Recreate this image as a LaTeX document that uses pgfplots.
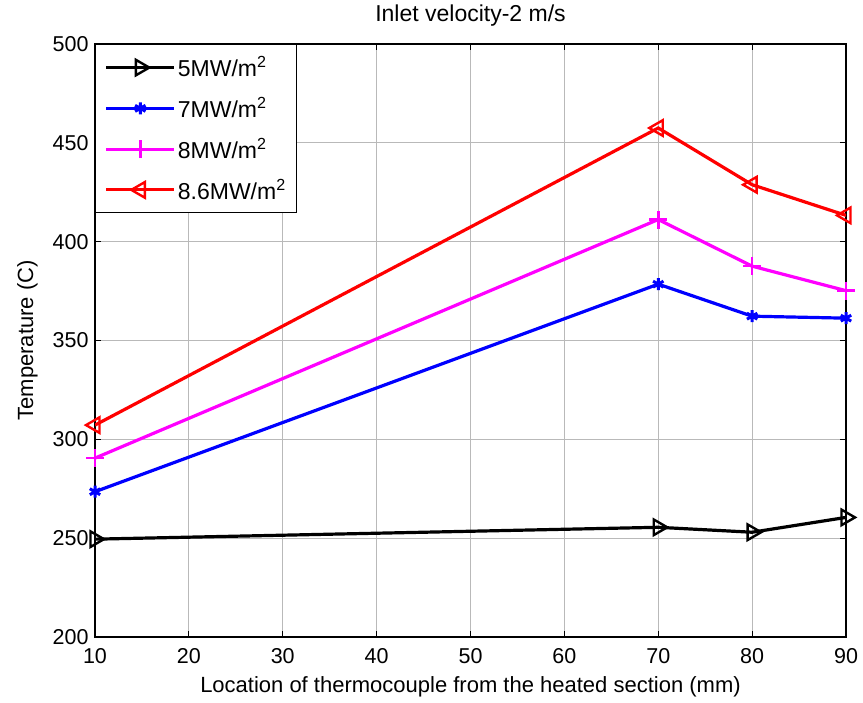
\documentclass[border=0pt]{standalone}
\usepackage{fontspec}
\setmainfont{Liberation Sans}
\usepackage{pgfplots}
\pgfplotsset{compat=1.18}
\usetikzlibrary{calc}
\definecolor{mblue}{RGB}{0,0,255}
\definecolor{mmag}{RGB}{255,0,255}
\definecolor{mred}{RGB}{255,0,0}

\begin{document}
\begin{tikzpicture}
\begin{axis}[
    name=ax,
    scale only axis,
    width=751pt,
    height=593pt,
    xmin=10, xmax=90,
    ymin=200, ymax=500,
    xtick={10,20,...,90},
    ytick={200,250,...,500},
    /pgf/number format/assume math mode=true,
    ticklabel style={font=\fontsize{21.5}{23}\selectfont},
    xticklabel style={yshift=-8pt},
    yticklabel style={xshift=-3pt},
    grid=major,
    grid style={gray!55, line width=0.9pt},
    axis line style={line width=1.4pt},
    tick align=inside,
    major tick length=6pt,
    tick style={black, line width=1pt},
    title={Inlet velocity-2 m/s},
    title style={font=\fontsize{23}{25}\selectfont, at={(0.5,1)}, anchor=south, yshift=8pt},
    xlabel={Location of thermocouple from the heated section (mm)},
    ylabel={Temperature (C)},
    label style={font=\fontsize{22}{24}\selectfont},
    xlabel style={yshift=-6pt},
    ylabel style={yshift=8pt},
    legend cell align=left,
    legend style={at={(0,1)}, anchor=north west, draw=black, line width=1.4pt,
        font=\fontsize{23}{25}\selectfont, row sep=15pt, inner xsep=9pt, inner ysep=10pt,
        /tikz/every even column/.append style={column sep=6pt}},
    legend image code/.code={
        \draw[mark repeat=2, mark phase=2] plot coordinates {(0pt,0pt) (34pt,0pt) (68pt,0pt)};
    },
]
\addplot[black, line width=3.2pt, mark=triangle, mark size=9pt,
    mark options={rotate=-90, solid, line width=2.4pt}] coordinates {
    (10,249.5) (70,255.5) (80,253) (90,260.5)
};
\addplot[mblue, line width=3.2pt, mark=asterisk, mark size=6pt,
    mark options={solid, line width=3pt}] coordinates {
    (10,273.5) (70,378.5) (80,362.3) (90,361.3)
};
\addplot[mmag, line width=3.2pt, mark=+, mark size=9pt,
    mark options={solid, line width=2.6pt}] coordinates {
    (10,290.5) (70,411.2) (80,387.6) (90,375.2)
};
\addplot[mred, line width=3.2pt, mark=triangle, mark size=9pt,
    mark options={rotate=90, solid, line width=2.4pt}] coordinates {
    (10,307.2) (70,457.5) (80,428.8) (90,413.3)
};
\legend{5MW/m\textsuperscript{2}, 7MW/m\textsuperscript{2}, 8MW/m\textsuperscript{2}, 8.6MW/m\textsuperscript{2}}
\end{axis}
\pgfresetboundingbox
\path ($(ax.south west)+(-95pt,-65pt)$) rectangle ($(ax.north east)+(17pt,44pt)$);
\end{tikzpicture}
\end{document}
